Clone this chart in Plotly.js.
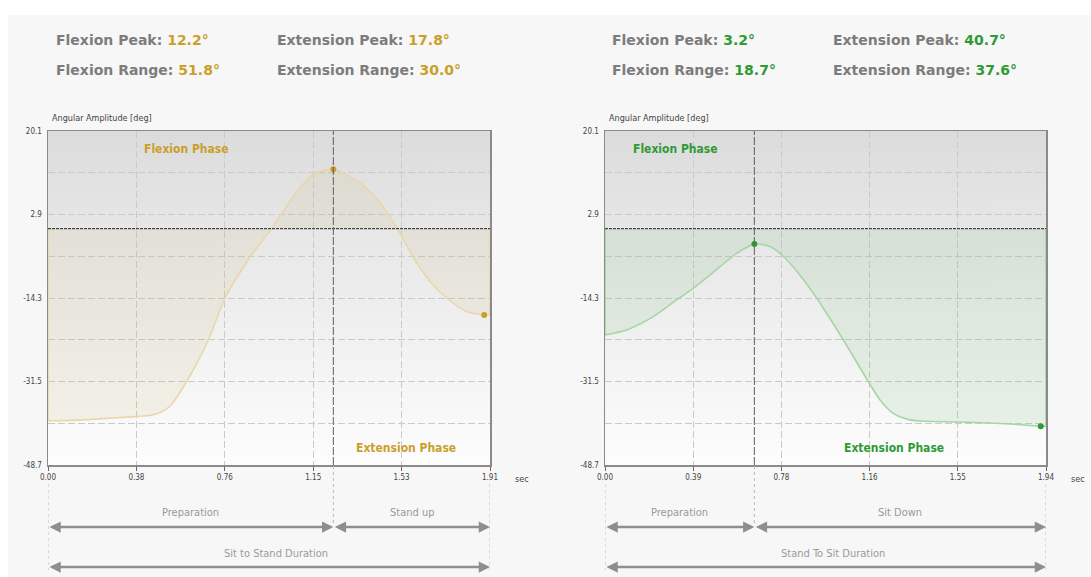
<!DOCTYPE html>
<html><head><meta charset="utf-8">
<script src="https://cdn.plot.ly/plotly-3.0.1.min.js"></script>
<style>html,body{margin:0;padding:0;background:#fff;overflow:hidden}#chart{width:1091px;height:577px}</style>
</head><body><div id="chart"></div>
<script>
// ---------------- DATA ----------------
const sitStandTime  = [0, 0.108, 0.22, 0.32, 0.398, 0.445, 0.484, 0.527, 0.599, 0.693, 0.765, 0.873, 0.967, 1.07, 1.146, 1.233, 1.348, 1.435, 1.507, 1.577, 1.651, 1.723, 1.809, 1.885, 1.91];
const sitStandAngle = [-39.6, -39.5, -39.2, -38.9, -38.65, -38.45, -37.9, -36.6, -31.5, -22.9, -14.3, -5.9, 0.05, 7.3, 11.2, 12.2, 9.4, 5.3, 0.2, -5.8, -10.9, -14.3, -17.1, -17.8, -17.8];
const sitStandMarkTime  = [1.233, 1.885];
const sitStandMarkAngle = [12.2, -17.8];
const sitStandPhaseTime = 1.233;
const sitStandDuration  = 1.91;
const sitStandStats = ["12.2", "17.8", "51.8", "30.0"]; // flexion peak, extension peak, flexion range, extension range
const sitStandXTickText = ["0.00", "0.38", "0.76", "1.15", "1.53", "1.91"];
const sitStandLabels = ["Preparation", "Stand up", "Sit to Stand Duration"];

const standSitTime  = [0, 0.095, 0.212, 0.315, 0.388, 0.506, 0.579, 0.657, 0.726, 0.784, 0.858, 0.931, 1.048, 1.158, 1.21, 1.268, 1.342, 1.415, 1.562, 1.782, 1.917, 1.94];
const standSitAngle = [-21.9, -20.9, -18.15, -14.7, -12.3, -7.85, -5.1, -3.2, -3.7, -5.7, -9.6, -14.3, -22.9, -31.5, -35.3, -38.05, -39.4, -39.7, -39.85, -40.25, -40.7, -40.7];
const standSitMarkTime  = [0.657, 1.917];
const standSitMarkAngle = [-3.2, -40.7];
const standSitPhaseTime = 0.657;
const standSitDuration  = 1.94;
const standSitStats = ["3.2", "40.7", "18.7", "37.6"];
const standSitXTickText = ["0.00", "0.39", "0.78", "1.16", "1.55", "1.94"];
const standSitLabels = ["Preparation", "Sit Down", "Stand To Sit Duration"];

const yTickVals = [20.1, 2.9, -14.3, -31.5, -48.7];
const yTickText = ["20.1", "2.9", "-14.3", "-31.5", "-48.7"];
const statNames = ["Flexion Peak: ", "Extension Peak: ", "Flexion Range: ", "Extension Range: "];
const phaseNames = ["Flexion Phase", "Extension Phase"];
const yTitle = "Angular Amplitude [deg]";
const xUnit = "sec";

// ---------------- LAYOUT HELPERS ----------------
const W = 1091, H = 577;
const px = X => X / W;
const py = Y => (H - Y) / H;
const FONT = "DejaVu Sans Condensed, DejaVu Sans, sans-serif";
const HFONT = "DejaVu Sans, sans-serif";
const GOLD = "#c9a02a", GREEN = "#2f9a35";
const GRID = '#cacaca', GDASH = '7px,3px';

// gradient image for plot backgrounds
const cv = document.createElement('canvas'); cv.width = 4; cv.height = 256;
const cx = cv.getContext('2d');
const g = cx.createLinearGradient(0, 0, 0, 256);
g.addColorStop(0, '#dcdcdc'); g.addColorStop(0.3, '#e7e7e7'); g.addColorStop(0.65, '#f2f2f2'); g.addColorStop(1, '#fdfdfd');
cx.fillStyle = g; cx.fillRect(0, 0, 4, 256);
const gradURL = cv.toDataURL();

const panels = [
  {t: sitStandTime, a: sitStandAngle, mt: sitStandMarkTime, ma: sitStandMarkAngle, ph: sitStandPhaseTime, dur: sitStandDuration,
   stats: sitStandStats, ticks: sitStandXTickText, labels: sitStandLabels, X0: 48, X1: 490, color: GOLD,
   line: '#e9d7aa', fill: 'rgba(200,170,100,0.11)', xa: 'x', ya: 'y', textX: [54, 275], fpx: 0.314, epx: 0.809, durX: 276},
  {t: standSitTime, a: standSitAngle, mt: standSitMarkTime, ma: standSitMarkAngle, ph: standSitPhaseTime, dur: standSitDuration,
   stats: standSitStats, ticks: standSitXTickText, labels: standSitLabels, X0: 605, X1: 1046, color: GREEN,
   line: '#a5d6a5', fill: 'rgba(110,185,110,0.12)', xa: 'x2', ya: 'y2', textX: [610, 831], fpx: 0.159, epx: 0.655, durX: 833}
];
const YT = 131, YB = 465;

const data = [], shapes = [], annotations = [], images = [];
const layout = {
  width: W, height: H, autosize: false, margin: {l: 0, r: 0, t: 0, b: 0},
  paper_bgcolor: '#f7f7f7', plot_bgcolor: 'rgba(0,0,0,0)', showlegend: false,
  font: {family: FONT, color: '#333'}
};

panels.forEach((p, i) => {
  const sfx = i === 0 ? '' : '2';
  const xKey = 'xaxis' + sfx, yKey = 'yaxis' + sfx;
  const tickVals = p.ticks.map((_, k) => k * p.dur / (p.ticks.length - 1));
  layout[xKey] = {
    domain: [px(p.X0), px(p.X1)], anchor: p.ya, range: [0, p.dur], tickvals: tickVals, ticktext: p.ticks,
    showgrid: true, gridcolor: GRID, griddash: GDASH, gridwidth: 1, zeroline: false,
    showline: true, mirror: true, linecolor: '#8a8a8a', linewidth: 1.5,
    ticks: 'outside', ticklen: 4, tickcolor: '#666', tickfont: {size: 8, color: '#444', family: FONT}, fixedrange: true
  };
  layout[yKey] = {
    domain: [py(YB), py(YT)], anchor: p.xa, range: [-48.7, 20.1], tickvals: yTickVals, ticktext: yTickText,
    showgrid: true, gridcolor: GRID, griddash: GDASH, gridwidth: 1, zeroline: false,
    minor: {tickvals: yTickVals.slice(0, -1).map((v, k) => (v + yTickVals[k + 1]) / 2), showgrid: true, gridcolor: GRID, griddash: GDASH, gridwidth: 1, ticks: ''},
    showline: true, mirror: true, linecolor: '#8a8a8a', linewidth: 1.5,
    ticks: '', ticklabelstandoff: 3, tickfont: {size: 8, color: '#444', family: FONT}, fixedrange: true
  };
  images.push({source: gradURL, xref: 'paper', yref: 'paper', x: px(p.X0), y: py(YT), sizex: px(p.X1) - px(p.X0), sizey: py(YT) - py(YB),
               sizing: 'stretch', xanchor: 'left', yanchor: 'top', layer: 'below'});

  data.push({type: 'scatter', x: p.t, y: p.a, xaxis: p.xa, yaxis: p.ya, mode: 'lines',
    line: {color: p.line, width: 1.6, shape: 'spline', smoothing: 0.7}, fill: 'tozeroy', fillcolor: p.fill, hoverinfo: 'skip'});
  data.push({type: 'scatter', x: p.mt, y: p.ma, xaxis: p.xa, yaxis: p.ya, mode: 'markers',
    marker: {color: p.color, size: 6}, hoverinfo: 'skip'});

  const last = p.t.length - 1;
  // vertical edges of the filled area
  shapes.push({type: 'line', xref: p.xa, yref: p.ya, x0: p.t[0], x1: p.t[0], y0: 0, y1: p.a[0], line: {color: p.line, width: 1.6}});
  shapes.push({type: 'line', xref: p.xa, yref: p.ya, x0: p.t[last], x1: p.t[last], y0: 0, y1: p.a[last], line: {color: p.line, width: 1.6}});
  // zero line
  shapes.push({type: 'line', xref: p.xa + ' domain', yref: p.ya, x0: 0, x1: 1, y0: 0, y1: 0, line: {color: '#444', width: 1.2, dash: '3px,1px'}});
  // phase separator
  shapes.push({type: 'line', xref: p.xa, yref: p.ya + ' domain', x0: p.ph, x1: p.ph, y0: 0, y1: 1, line: {color: '#5e5e5e', width: 1, dash: '8px,2px'}});
  // dotted guide lines below the axis
  shapes.push({type: 'line', xref: p.xa, yref: 'paper', x0: p.ph, x1: p.ph, y0: py(466), y1: py(524), line: {color: '#b8b8b8', width: 1, dash: 'dot'}});
  [0, p.dur].forEach(t => shapes.push({type: 'line', xref: p.xa, yref: 'paper', x0: t, x1: t, y0: py(484), y1: py(570), line: {color: '#bdbdbd', width: 1, dash: 'dot'}}));

  // header stats
  const pos = [[p.textX[0], 40], [p.textX[1], 40], [p.textX[0], 70], [p.textX[1], 70]];
  statNames.forEach((n, k) => annotations.push({xref: 'paper', yref: 'paper', x: px(pos[k][0]), y: py(pos[k][1]), xanchor: 'left', yanchor: 'middle',
    showarrow: false, text: '<b>' + n + '<span style="color:' + p.color + '">' + p.stats[k] + '°</span></b>',
    font: {family: HFONT, size: 14, color: '#7c7c7c'}}));
  // axis title and unit
  annotations.push({xref: 'paper', yref: 'paper', x: px(p.X0 + 2), y: py(118), xanchor: 'left', yanchor: 'middle', showarrow: false,
    text: yTitle, font: {family: FONT, size: 9, color: '#444'}});
  annotations.push({xref: 'paper', yref: 'paper', x: px(p.X1 + 32), y: py(479), xanchor: 'center', yanchor: 'middle', showarrow: false,
    text: xUnit, font: {family: FONT, size: 9, color: '#444'}});
  // phase labels
  annotations.push({xref: p.xa + ' domain', yref: p.ya + ' domain', x: p.fpx, y: 0.946, xanchor: 'center', yanchor: 'middle', showarrow: false,
    text: '<b>' + phaseNames[0] + '</b>', font: {family: FONT, size: 12, color: p.color}});
  annotations.push({xref: p.xa + ' domain', yref: p.ya + ' domain', x: p.epx, y: 0.051, xanchor: 'center', yanchor: 'middle', showarrow: false,
    text: '<b>' + phaseNames[1] + '</b>', font: {family: FONT, size: 12, color: p.color}});
  // bottom labels
  annotations.push({xref: p.xa, yref: 'paper', x: p.ph / 2, y: py(512), xanchor: 'center', yanchor: 'middle', showarrow: false,
    text: p.labels[0], font: {family: FONT, size: 11, color: '#9a9a9a'}});
  annotations.push({xref: p.xa, yref: 'paper', x: (p.ph + p.dur) / 2, y: py(512), xanchor: 'center', yanchor: 'middle', showarrow: false,
    text: p.labels[1], font: {family: FONT, size: 11, color: '#9a9a9a'}});
  annotations.push({xref: 'paper', yref: 'paper', x: px(p.durX), y: py(553), xanchor: 'center', yanchor: 'middle', showarrow: false,
    text: p.labels[2], font: {family: FONT, size: 11, color: '#9a9a9a'}});
  // arrows
  const arrow = (a, b, Y) => ({xref: p.xa, axref: p.xa, x: b, ax: a, yref: 'paper', y: py(Y), ayref: 'pixel', ay: 0, text: '',
    showarrow: true, arrowside: 'end+start', arrowhead: 2, arrowsize: 0.9, arrowwidth: 2.5, arrowcolor: '#8e8e8e', standoff: 0, startstandoff: 0});
  annotations.push(arrow(0, p.ph, 527));
  annotations.push(arrow(p.ph, p.dur, 527));
  annotations.push(arrow(0, p.dur, 567));
});

// white margin strips
shapes.push({type: 'rect', xref: 'paper', yref: 'paper', x0: 0, x1: 1, y0: py(15), y1: 1, fillcolor: '#ffffff', line: {width: 0}, layer: 'below'});
shapes.push({type: 'rect', xref: 'paper', yref: 'paper', x0: 0, x1: px(8), y0: 0, y1: 1, fillcolor: '#ffffff', line: {width: 0}, layer: 'below'});

layout.shapes = shapes; layout.annotations = annotations; layout.images = images;
Plotly.newPlot('chart', data, layout, {staticPlot: true, displayModeBar: false});
</script></body></html>
